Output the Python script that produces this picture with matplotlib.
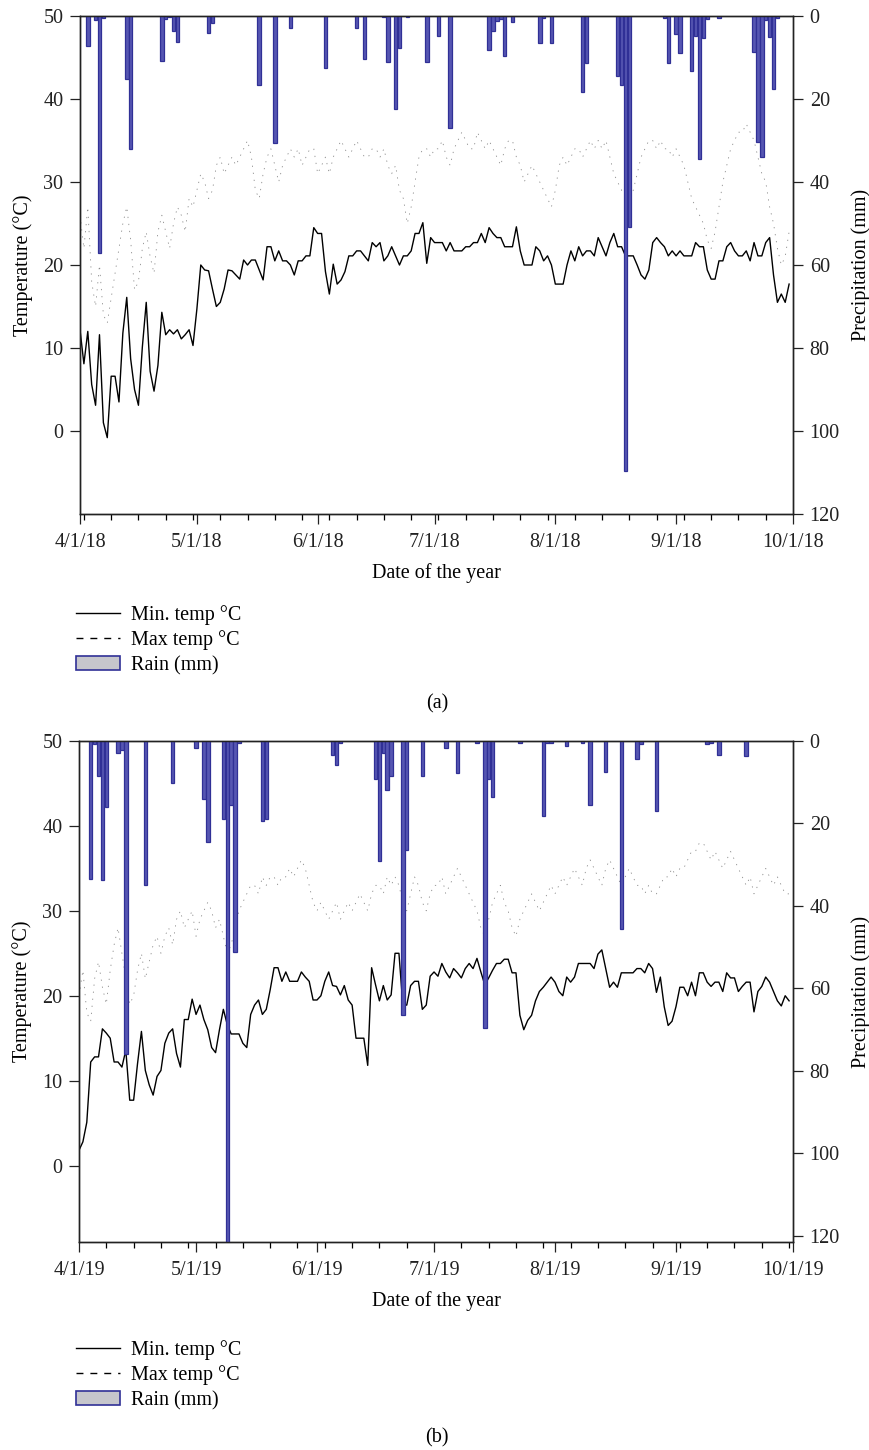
import numpy as np
import pandas as pd
import matplotlib
matplotlib.use('Agg')
import matplotlib.pyplot as plt
import matplotlib.dates as mdates
from matplotlib.ticker import FuncFormatter
from matplotlib.lines import Line2D
from matplotlib.patches import Patch

plt.rcParams['font.family'] = ['Liberation Serif', 'DejaVu Serif']

# ---- 2018 season (Apr 1 - Sep 30), daily values ----
min_2018 = [12.2, 8.1, 12.0, 5.6, 3.1, 11.6, 1.0, -0.8, 6.6, 6.6,
            3.5, 11.8, 16.1, 8.7, 5.0, 3.1, 10.1, 15.5, 7.2, 4.8,
            7.9, 14.3, 11.6, 12.2, 11.7, 12.2, 11.1, 11.6, 12.2, 10.3,
            14.7, 20.0, 19.4, 19.3, 17.1, 15.0, 15.5, 17.1, 19.4, 19.3,
            18.8, 18.3, 20.6, 20.0, 20.6, 20.6, 19.4, 18.2, 22.2, 22.2,
            20.5, 21.7, 20.5, 20.5, 20.0, 18.8, 20.5, 20.5, 21.1, 21.1,
            24.5, 23.8, 23.8, 19.2, 16.5, 20.1, 17.7, 18.2, 19.2, 21.1,
            21.1, 21.7, 21.7, 21.1, 20.5, 22.7, 22.2, 22.7, 20.5, 21.1,
            22.2, 21.1, 20.0, 21.1, 21.1, 21.7, 23.8, 23.8, 25.1, 20.2,
            23.3, 22.7, 22.7, 22.7, 21.7, 22.7, 21.7, 21.7, 21.7, 22.2,
            22.2, 22.7, 22.7, 23.8, 22.7, 24.5, 23.8, 23.3, 23.3, 22.2,
            22.2, 22.2, 24.6, 21.7, 20.0, 20.0, 20.0, 22.2, 21.7, 20.5,
            21.1, 20.0, 17.7, 17.7, 17.7, 20.0, 21.7, 20.5, 22.2, 21.1,
            21.7, 21.7, 21.1, 23.3, 22.2, 21.1, 22.7, 23.8, 22.2, 22.2,
            21.1, 21.1, 21.1, 20.0, 18.8, 18.3, 19.4, 22.7, 23.3, 22.7,
            22.2, 21.1, 21.7, 21.1, 21.7, 21.1, 21.1, 21.1, 22.7, 22.2,
            22.2, 19.4, 18.3, 18.3, 20.5, 20.5, 22.2, 22.7, 21.7, 21.1,
            21.1, 21.7, 20.5, 22.7, 21.1, 21.1, 22.7, 23.3, 18.8, 15.5,
            16.5, 15.5, 17.7]

max_2018 = [26, 22, 27, 18, 15, 20, 14, 13, 16, 19, 22,
            25, 27, 23, 17, 18, 22, 24, 21, 19, 24,
            26, 24, 22, 25, 27, 26, 24, 28, 27,
            29, 31, 30, 28, 29, 32, 33, 31, 32, 33, 32,
            33, 34, 35, 33, 29, 28, 31, 33, 34, 32,
            30, 32, 33, 34, 33, 34, 32, 33, 34, 34,
            31, 32, 33, 31, 33, 34, 35, 34, 33, 34,
            35, 34, 33, 33, 34, 34, 33, 34, 32, 31,
            32, 29, 28, 25, 27, 30, 33, 34, 34, 33,
            34, 34, 35, 33, 32, 34, 35, 36, 35, 34,
            34, 36, 35, 34, 35, 34, 33, 32, 34, 35,
            35, 33, 32, 30, 31, 32, 31, 30, 29, 28,
            27, 29, 32, 33, 32, 33, 34, 34, 33, 34,
            35, 34, 35, 34, 35, 33, 31, 30, 29, 30,
            28, 29, 31, 33, 34, 35, 35, 34, 35, 34,
            34, 33, 34, 33, 32, 30, 28, 27, 26, 25,
            23, 22, 24, 27, 30, 32, 34, 35, 36, 36,
            37, 36, 35, 33, 31, 30, 27, 25, 22, 20, 21, 24]

rain_day_2018 = [2, 4, 5, 6, 12, 13, 21, 22, 23, 24, 25, 33, 34, 46, 50, 54,
                 63, 71, 73, 78, 79, 81, 82, 84, 89, 92, 95, 105, 106, 107,
                 108, 109, 111, 118, 119, 121, 129, 130, 138, 139, 140, 141,
                 150, 151, 153, 154, 157, 158, 159, 160, 161, 164, 173, 174,
                 175, 176, 177, 178, 179]
rain_mm_2018 = [7.2, 1.0, 57.2, 0.6, 15.1, 32.1, 10.9, 0.8, 0.3, 3.5, 6.2, 4.1,
                1.7, 16.7, 30.7, 2.8, 12.6, 2.8, 10.3, 0.3, 11.2, 22.5, 7.6,
                0.3, 11.2, 4.7, 27.1, 8.3, 3.7, 1.1, 0.8, 9.7, 1.5, 6.4, 0.6,
                6.6, 18.2, 11.4, 14.5, 16.6, 109.7, 50.9, 0.4, 11.4, 4.3, 8.9,
                13.2, 4.8, 34.5, 5.4, 0.8, 0.4, 8.7, 30.4, 33.9, 1.0, 5.0,
                17.6, 0.6]

# ---- 2019 season ----
min_2019 = [1.8, 2.8, 5.1, 12.2, 12.8, 12.8, 16.1, 15.6, 15.0, 12.2,
            12.2, 11.6, 13.6, 7.7, 7.7, 12.0, 15.8, 11.2, 9.5, 8.3,
            10.5, 11.2, 14.4, 15.6, 16.1, 13.2, 11.6, 17.2, 17.2, 19.6,
            17.8, 18.9, 17.2, 16.0, 13.9, 13.3, 16.0, 18.4, 16.6, 15.5,
            15.5, 15.5, 14.4, 13.9, 17.8, 18.9, 19.5, 17.8, 18.4, 20.7,
            23.3, 23.3, 21.7, 22.8, 21.7, 21.7, 21.7, 22.8, 22.2, 21.7,
            19.5, 19.5, 20.0, 21.7, 22.8, 21.2, 21.1, 20.1, 21.2, 19.5,
            18.9, 15.0, 15.0, 15.0, 11.8, 23.3, 21.3, 19.4, 21.2, 19.5,
            20.1, 25.0, 25.0, 18.9, 18.9, 21.2, 21.7, 21.7, 18.4, 18.9,
            22.3, 22.8, 22.3, 23.8, 22.8, 22.1, 23.2, 22.7, 22.1, 23.2,
            23.8, 23.2, 24.4, 22.8, 21.3, 22.1, 23.0, 23.8, 23.8, 24.3,
            24.3, 22.7, 22.7, 17.7, 16.0, 17.1, 17.7, 19.4, 20.5, 21.0,
            21.6, 22.2, 21.6, 20.5, 20.0, 22.2, 21.6, 22.2, 23.8, 23.8,
            23.8, 23.8, 23.2, 24.9, 25.4, 23.2, 21.0, 21.6, 21.0, 22.7,
            22.7, 22.7, 22.7, 23.2, 23.2, 22.7, 23.8, 23.2, 20.4, 22.2,
            18.7, 16.5, 17.0, 18.7, 21.0, 21.0, 20.0, 21.6, 20.0, 22.7,
            22.7, 21.6, 21.1, 21.6, 21.6, 20.5, 22.7, 22.1, 22.1, 20.5,
            21.1, 21.6, 21.6, 18.1, 20.5, 21.1, 22.2, 21.6, 20.5, 19.4,
            18.8, 20.0, 19.4]

max_2019 = [20, 23, 18, 17, 22, 24, 21, 19, 23, 26, 28,
            25, 22, 19, 20, 23, 25, 22, 24, 26, 27,
            25, 27, 28, 26, 29, 30, 28, 29, 30, 27,
            29, 30, 31, 30, 28, 29, 27, 25, 26, 28,
            30, 31, 32, 33, 33, 32, 34, 33, 34, 34,
            33, 34, 34, 35, 34, 35, 36, 35, 33, 31,
            30, 31, 30, 29, 30, 31, 29, 30, 31, 30,
            31, 32, 31, 30, 32, 33, 33, 32, 34, 33,
            34, 33, 31, 30, 32, 34, 33, 31, 30, 32,
            33, 33, 34, 32, 33, 34, 35, 34, 33, 32,
            31, 30, 28, 27, 29, 31, 32, 33, 31, 30,
            28, 27, 29, 30, 31, 32, 31, 30, 31, 32,
            33, 32, 33, 34, 33, 34, 35, 34, 33, 35,
            36, 35, 34, 33, 35, 36, 35, 34, 33, 34,
            35, 34, 33, 33, 32, 33, 32, 32, 33, 34,
            34, 35, 34, 35, 35, 36, 37, 37, 38, 38,
            37, 36, 37, 36, 35, 36, 37, 36, 35, 34,
            33, 34, 32, 33, 34, 35, 34, 33, 34, 33, 32, 32]

rain_day_2019 = [3, 4, 5, 6, 7, 10, 11, 12, 17, 24, 30, 32, 33, 37, 38, 39, 40,
                 41, 47, 48, 65, 66, 67, 76, 77, 78, 79, 80, 83, 84, 88, 94,
                 97, 102, 104, 105, 106, 113, 119, 120, 121, 125, 129, 131,
                 135, 139, 143, 144, 148, 161, 162, 164, 171]
rain_mm_2019 = [33.4, 0.7, 8.5, 33.6, 16.0, 2.8, 2.3, 75.8, 34.9, 10.2, 1.8,
                14.1, 24.6, 18.9, 125.0, 15.6, 51.2, 0.4, 19.5, 18.9, 3.4, 5.7,
                0.4, 9.3, 29.0, 2.8, 12.0, 8.4, 66.5, 26.4, 8.5, 1.8, 7.8, 0.4,
                69.5, 9.2, 13.7, 0.4, 18.1, 0.4, 0.4, 1.3, 0.4, 15.6, 7.6,
                45.7, 4.3, 0.7, 17.0, 0.7, 0.4, 3.4, 3.6]

BAR_FACE = '#5656b2'
BAR_EDGE = '#303096'
LEG_FACE = '#c6c6cc'
FS = 14.5


def date_label(x, pos):
    d = mdates.num2date(x)
    return f"{d.month}/{d.day}/{d.strftime('%y')}"


def draw_panel(fig, rect, year, tmin, tmax, rain_day, rain_mm, temp_lim, rain_lim):
    dates = pd.date_range(f'{year}-04-01', periods=len(tmin), freq='D')

    ax = fig.add_axes(rect)
    ax2 = ax.twinx()

    ax.plot(dates, tmin, color='black', lw=1.0)
    ax.plot(dates, tmax, color='#8a8a8a', lw=0.6, linestyle=(0, (1.5, 7)))

    ax2.bar(dates[rain_day], rain_mm, width=0.9, color=BAR_FACE,
            edgecolor=BAR_EDGE, linewidth=0.9)

    ax.set_xlim(pd.Timestamp(f'{year}-04-01'), pd.Timestamp(f'{year}-10-01'))
    ax.set_ylim(*temp_lim)
    ax.set_yticks([0, 10, 20, 30, 40, 50])
    ax2.set_ylim(rain_lim, 0)
    ax2.set_yticks([0, 20, 40, 60, 80, 100, 120])

    ax.xaxis.set_major_locator(mdates.MonthLocator())
    ax.xaxis.set_minor_locator(mdates.WeekdayLocator(byweekday=mdates.MO))
    ax.xaxis.set_major_formatter(FuncFormatter(date_label))

    for a in (ax, ax2):
        a.tick_params(axis='both', which='major', direction='out', length=7,
                      width=0.9, labelsize=FS, colors='#222222', pad=5)
        a.tick_params(axis='both', which='minor', direction='out', length=4,
                      width=0.9)
        for s in a.spines.values():
            s.set_linewidth(1.0)
            s.set_color('#222222')
    ax.tick_params(axis='x', which='major', pad=7)

    ax.set_xlabel('Date of the year', fontsize=FS, labelpad=8)
    ax.set_ylabel('Temperature (°C)', fontsize=FS, labelpad=7)
    ax2.set_ylabel('Precipitation (mm)', fontsize=FS, labelpad=8)
    return ax


fig = plt.figure(figsize=(8.7, 14.5), dpi=100)
W, H = 870, 1450


def frac_rect(x0, y0, x1, y1):
    return [x0 / W, 1 - y1 / H, (x1 - x0) / W, (y1 - y0) / H]


draw_panel(fig, frac_rect(80, 16, 793, 514), 2018, min_2018, max_2018,
           rain_day_2018, rain_mm_2018, (-10, 50), 120)
draw_panel(fig, frac_rect(79, 741, 793, 1242), 2019, min_2019, max_2019,
           rain_day_2019, rain_mm_2019, (-9.0, 50), 121.5)

handles = [Line2D([], [], color='black', lw=1.0),
           Line2D([], [], color='black', lw=1.0, linestyle=(0, (5, 5))),
           Patch(facecolor=LEG_FACE, edgecolor=BAR_EDGE, linewidth=1.2)]
labels = ['Min. temp °C', 'Max temp °C', 'Rain (mm)']

for top, tag, tag_y in [(605, '(a)', 704), (1340, '(b)', 1438)]:
    fig.legend(handles, labels, loc='upper left',
               bbox_to_anchor=(76 / W, 1 - top / H), frameon=False,
               fontsize=FS, handlelength=2.2, handletextpad=0.55,
               labelspacing=0.28, borderpad=0.0, borderaxespad=0.0)
    fig.text(437 / W, 1 - tag_y / H, tag, ha='center', va='center', fontsize=FS)

fig.savefig('out.png', dpi=100)
